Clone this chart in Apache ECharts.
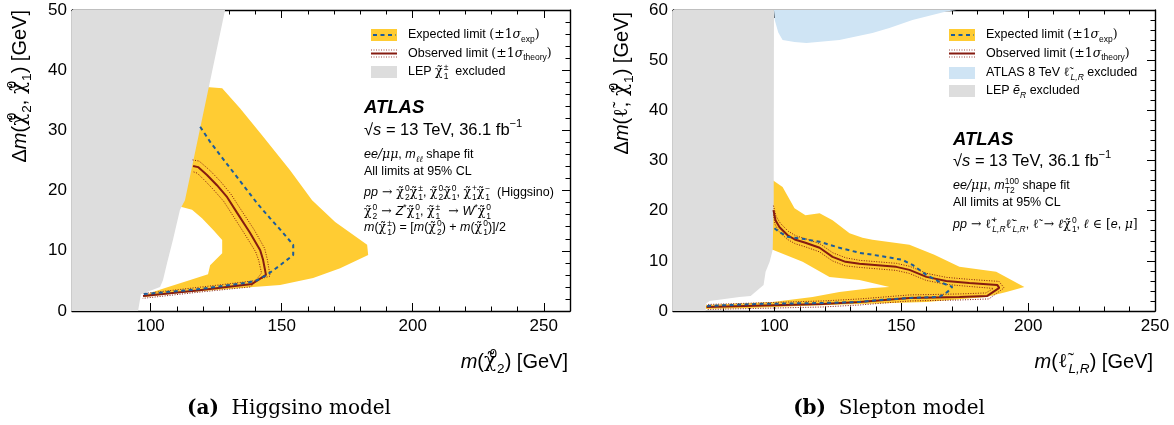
<!DOCTYPE html>
<html>
<head>
<meta charset="utf-8">
<script src="https://cdn.jsdelivr.net/npm/echarts@6/dist/echarts.min.js"></script>
<style>
html,body{margin:0;padding:0;background:#fff;}
#chart{width:1174px;height:425px;}
</style>
</head>
<body>
<div id="chart"></div>
<script>
// ---------- (a) Higgsino model: [m(chi20) GeV, dm(chi20,chi10) GeV] ----------
const higgsinoLep = [[70,50],[128.4,50],[113.1,18.4],[111.2,16.8],[108.5,11.8],[106.3,8.0],[104.7,5.1],[103.6,4.0],[96.3,2.8],[95.2,0],[70,0]];
const higgsinoBand = [[119,37.3],[127.3,37.0],[134.1,33.7],[142.5,29.2],[153.2,23.4],[161.6,18.4],[170.4,14.8],[182.6,11.0],[183.0,9.3],[172.3,7.1],[162.0,5.5],[149.4,4.3],[130.3,3.7],[111.2,3.0],[97.1,2.3],[99.8,3.0],[105.5,3.8],[113.9,5.0],[121.9,6.1],[122.7,7.6],[127.3,9.6],[127.3,11.8],[123.8,13.5],[119.6,15.4],[115.8,16.8],[111.5,17.3]];
const higgsinoExp = [[118.9,30.6],[122.7,28.1],[128.8,24.6],[136.4,20.3],[140.6,17.9],[145.6,15.4],[150.5,13.0],[154.4,11.0],[154.4,9.3],[149.4,7.6],[144.4,6.0],[140.6,5.1],[136.8,4.7],[117.7,3.6],[97.1,2.8]];
const higgsinoObs = [[116.2,24.1],[118.1,23.9],[121.5,22.6],[125.3,20.9],[129.2,18.9],[133.0,16.3],[137.9,13.0],[141.8,10.1],[142.9,8.5],[144.0,6.0],[138.7,4.5],[117.7,3.4],[97.1,2.5]];
const higgsinoObsUp = [[116.0,25.1],[118.5,24.9],[122.5,23.4],[126.5,21.6],[130.5,19.5],[134.5,16.8],[139.5,13.5],[143.5,10.4],[144.5,8.6],[145.6,5.8],[139.2,5.0],[117.7,3.9],[97.3,2.9]];
const higgsinoObsDown = [[116.4,23.1],[117.8,22.9],[120.6,21.7],[124.1,20.1],[127.9,18.2],[131.6,15.7],[136.3,12.5],[140.1,9.8],[141.3,8.3],[142.3,6.3],[138.2,4.0],[117.7,3.1],[97.0,2.1]];

// ---------- (b) Slepton model: [m(slepton) GeV, dm(slepton,chi10) GeV] ----------
const sleptonLep = [[60,60],[99.8,60],[99.7,22.1],[99.3,12.2],[98.1,9.8],[96.5,7.8],[95.7,5.2],[90.6,3.0],[86.2,2.8],[74.4,2.0],[72.9,1.4],[72.9,0],[60,0]];
const sleptonAtlas8 = [[99.8,60],[100.1,58.0],[101.5,55.5],[103.2,54.0],[107.9,53.6],[112.6,53.4],[125.6,54.0],[138.6,55.4],[145.3,56.4],[154.4,58.0],[167.7,59.7],[171.7,60]];
const sleptonBand = [[98.1,26.5],[103.2,24.7],[107.9,20.5],[112.2,19.1],[117.8,19.5],[122.9,18.1],[129.6,15.5],[134.7,14.6],[138.6,14.2],[153.2,13.2],[163.0,11.2],[172.9,8.8],[187.4,7.8],[198.5,4.8],[191.4,3.8],[183.5,2.8],[159.9,1.8],[133.5,1.4],[109.9,1.0],[90.2,0.6],[72.9,0.4],[72.9,1.2],[99.3,1.8],[115.0,2.8],[125.6,3.8],[138.6,4.6],[145.3,4.8],[133.5,6.2],[121.7,6.8],[111.1,9.8],[99.3,12.2],[98.1,12.2]];
const sleptonExp = [[100.0,16.5],[102.0,15.7],[105.2,14.8],[111.1,14.4],[117.8,13.8],[125.6,12.6],[133.5,11.6],[141.4,11.0],[150.4,10.2],[154.4,9.2],[159.9,7.2],[165.0,5.8],[170.1,4.8],[168.2,3.8],[165.0,2.8],[153.2,2.6],[141.4,2.2],[133.5,1.8],[118.9,1.6],[92.9,1.4],[73.2,1.0]];
const sleptonObs = [[99.6,20.1],[100.4,18.1],[102.0,16.7],[105.2,15.1],[108.3,14.2],[112.2,13.6],[117.8,12.6],[122.9,10.8],[128.0,9.8],[133.5,9.4],[148.0,8.8],[153.2,8.2],[159.9,6.8],[167.7,6.0],[176.8,5.6],[187.8,5.2],[188.6,4.6],[183.9,3.0],[172.9,2.8],[153.2,2.6],[133.5,1.8],[118.9,1.4],[73.2,0.8]];
const sleptonObsUp = [[99.6,21.0],[100.6,18.9],[102.3,17.5],[105.4,15.9],[108.4,15.0],[112.3,14.4],[117.9,13.4],[123.0,11.6],[128.1,10.6],[133.6,10.1],[148.1,9.5],[153.3,8.9],[160.0,7.5],[167.8,6.7],[176.9,6.3],[188.5,5.9],[190.5,4.6],[184.5,2.4],[173.0,2.2],[153.3,2.0],[133.6,1.2],[118.9,0.8],[73.2,0.3]];
const sleptonObsDown = [[99.6,19.2],[100.2,17.3],[101.7,15.9],[105.0,14.3],[108.2,13.4],[112.1,12.8],[117.7,11.8],[122.8,10.0],[127.9,9.0],[133.4,8.7],[147.9,8.1],[153.1,7.5],[159.8,6.1],[167.6,5.3],[176.7,4.9],[186.3,4.5],[183.3,3.6],[172.9,3.4],[153.2,3.2],[133.5,2.4],[118.9,2.0],[73.2,1.3]];

// ---------- axis ranges and tick labels ----------
const higgsinoX = {min:70, max:260, labels:[100,150,200,250]};
const higgsinoY = {min:0, max:50};
const sleptonX = {min:60, max:250, labels:[100,150,200,250]};
const sleptonY = {min:0, max:60};

const COL = {
  band:'#ffcc33', lep:'#dddddd', atlas8:'#cfe4f4',
  exp:'#1d5c9a', obs:'#861b10', text:'#000'
};
const SANS = 'Liberation Sans';
const SERIF = 'DejaVu Serif';

function xAxes(g, r) {
  const base = {gridIndex:g, type:'value', min:r.min, max:r.max, interval:10,
    splitLine:{show:false}, axisPointer:{show:false}};
  const line = {show:true, onZero:false, lineStyle:{color:'#000', width:1.4}};
  return [
    Object.assign({}, base, {position:'bottom', axisLine:line,
      axisTick:{show:true, inside:true, length:4.5, lineStyle:{color:'#000', width:1}},
      axisLabel:{show:true, customValues:r.labels, color:'#000', fontFamily:SANS, fontSize:17, margin:7}}),
    Object.assign({}, base, {position:'bottom', axisLine:{show:false, onZero:false},
      axisTick:{show:true, inside:true, length:8, customValues:r.labels, lineStyle:{color:'#000', width:1}},
      axisLabel:{show:false}}),
    Object.assign({}, base, {position:'top', axisLine:line,
      axisTick:{show:true, inside:true, length:4.5, lineStyle:{color:'#000', width:1}},
      axisLabel:{show:false}}),
    Object.assign({}, base, {position:'top', axisLine:{show:false, onZero:false},
      axisTick:{show:true, inside:true, length:8, customValues:r.labels, lineStyle:{color:'#000', width:1}},
      axisLabel:{show:false}})
  ];
}
function yAxes(g, r) {
  const base = {gridIndex:g, type:'value', min:r.min, max:r.max, interval:10,
    splitLine:{show:false}, axisPointer:{show:false},
    axisLine:{show:true, onZero:false, lineStyle:{color:'#000', width:1.4}},
    axisTick:{show:true, inside:true, length:8, lineStyle:{color:'#000', width:1}},
    minorTick:{show:true, splitNumber:5, length:4.5, lineStyle:{color:'#000', width:1}}};
  return [
    Object.assign({}, base, {position:'left',
      axisLabel:{show:true, color:'#000', fontFamily:SANS, fontSize:17, margin:5}}),
    Object.assign({}, base, {position:'right', axisLabel:{show:false}})
  ];
}

function polygon(xi, yi, pts, color, z) {
  return {type:'custom', xAxisIndex:xi, yAxisIndex:yi, z:z, silent:true, clip:true,
    data:[0],
    renderItem:(params, api) => ({type:'polygon',
      shape:{points: pts.map(p => api.coord(p))},
      style:{fill:color}})};
}
function curve(xi, yi, pts, color, width, dash, z) {
  return {type:'line', xAxisIndex:xi, yAxisIndex:yi, z:z, silent:true, clip:true,
    data:pts, showSymbol:false, symbol:'none',
    lineStyle:{color:color, width:width, type:dash}};
}

// rich text styles for physics notation
function rich(s) {
  const sub = Math.round(s*0.68*10)/10;
  const lh = Math.round(s*1.45);
  const sl = Math.round(sub*1.3);
  const gap = Math.max(1, Math.round(s*0.06));
  return {
    n:{fontFamily:SANS, fontSize:s, color:COL.text, lineHeight:lh},
    i:{fontFamily:SANS, fontStyle:'italic', fontSize:s, color:COL.text, lineHeight:lh},
    b:{fontFamily:SANS, fontStyle:'italic', fontWeight:'bold', fontSize:s, color:COL.text, lineHeight:lh},
    g:{fontFamily:SERIF, fontStyle:'italic', fontSize:s, color:COL.text, lineHeight:lh},
    gt:{fontFamily:SERIF, fontSize:s, color:COL.text, lineHeight:lh, padding:[0,gap,0,0]},
    gu:{fontFamily:SERIF, fontSize:s, color:COL.text, lineHeight:lh},
    sp:{fontFamily:SANS, fontSize:sub, color:COL.text, lineHeight:sl, verticalAlign:'top'},
    spz:{fontFamily:SANS, fontSize:sub, color:COL.text, lineHeight:sl, verticalAlign:'top', width:0},
    sb:{fontFamily:SANS, fontSize:sub, color:COL.text, lineHeight:sl, verticalAlign:'bottom'},
    sbz:{fontFamily:SANS, fontSize:sub, color:COL.text, lineHeight:sl, verticalAlign:'bottom', width:0},
    isb:{fontFamily:SANS, fontStyle:'italic', fontSize:sub, color:COL.text, lineHeight:sl, verticalAlign:'bottom'},
    gsb:{fontFamily:SERIF, fontStyle:'italic', fontSize:sub, color:COL.text, lineHeight:sl, verticalAlign:'bottom'}
  };
}
function label(x, y, text, size, align, extra) {
  return Object.assign({type:'text', x:x, y:y, z:100, silent:true,
    style:{text:text, rich:rich(size), align:align || 'left', verticalAlign:'middle'}}, extra || {});
}

const CHI = '{gt|\u03C7\u0303}';
const SLEP = '{gt|\u2113\u0303}';
const chi = (up, low) => CHI + '{spz|' + up + '}{sb|' + low + '}';

const legExp = '{n|Expected limit }{gu|(\u00B11}{g|\u03C3}{sb|exp}{gu|)}';
const legObs = '{n|Observed limit }{gu|(\u00B11}{g|\u03C3}{sb|theory}{gu|)}';
const sqrtS = '{n|\u221A}{i|s}{n| = 13 TeV, 36.1 fb}{sp|\u22121}';

function legendMarks(x0, ys, extraRects) {
  const w = 26, h = 12, els = [];
  els.push({type:'rect', z:100, shape:{x:x0, y:ys[0]-h/2, width:w, height:h}, style:{fill:COL.band}});
  els.push({type:'line', z:101, shape:{x1:x0+2, y1:ys[0], x2:x0+w-1, y2:ys[0]},
    style:{stroke:COL.exp, lineWidth:2, lineDash:[4,3.5]}});
  els.push({type:'line', z:101, shape:{x1:x0, y1:ys[1], x2:x0+w, y2:ys[1]},
    style:{stroke:COL.obs, lineWidth:2}});
  [-3.5, 3.5].forEach(d => els.push({type:'line', z:101,
    shape:{x1:x0, y1:ys[1]+d, x2:x0+w, y2:ys[1]+d},
    style:{stroke:COL.obs, lineWidth:1, lineDash:[1,1.5], opacity:0.8}}));
  extraRects.forEach((c, k) => els.push({type:'rect', z:100,
    shape:{x:x0, y:ys[2+k]-h/2, width:w, height:h}, style:{fill:c}}));
  return els;
}

const captionRich = {cb:{fontFamily:SERIF, fontWeight:'bold', fontSize:20, color:'#000'},
                     c:{fontFamily:SERIF, fontSize:20, color:'#000'}};

const graphics = [].concat(
  // panel (a) legend
  legendMarks(371, [35, 53.5, 72], [COL.lep]),
  [
    label(408, 35, legExp, 12.5),
    label(408, 53.5, legObs, 12.5),
    label(408, 72, '{n|LEP }' + chi('\u00B1','1') + '{n|  excluded}', 12.5),
    label(364, 108, '{b|ATLAS}', 18.5),
    label(364, 130, sqrtS, 16.5),
    label(364, 155, '{i|ee}{g|/\u03BC\u03BC}{n|, }{i|m}{gsb|\u2113\u2113}{n| shape fit}', 12.5),
    label(364, 172, '{n|All limits at 95% CL}', 12.5),
    label(364, 193, '{i|pp}{gu| \u2192 }' + chi('0','2') + chi('\u00B1','1') + '{n|, }' + chi('0','2') + chi('0','1') + '{n|, }' + chi('+','1') + chi('\u2212','1') + '{n|  (Higgsino)}', 12.5),
    label(364, 212, chi('0','2') + '{gu| \u2192 }{i|Z}{sp|*}' + chi('0','1') + '{n|, }' + chi('\u00B1','1') + '{gu|  \u2192 }{i|W}{sp|*}' + chi('0','1'), 12.5),
    label(364, 228, '{i|m}{n|(}' + chi('\u00B1','1') + '{n|) = [}{i|m}{n|(}' + chi('0','2') + '{n|) + }{i|m}{n|(}' + chi('0','1') + '{n|)]/2}', 12.5),
    // axis titles (a)
    label(568, 362, '{i|m}{n|(}' + chi('0','2') + '{n|) [GeV]}', 20, 'right'),
    label(20, 10, '{n|\u0394}{i|m}{n|(}' + chi('0','2') + '{n|, }' + chi('0','1') + '{n|) [GeV]}', 20, 'right', {rotation:Math.PI/2})
  ],
  // panel (b) legend
  legendMarks(949, [35, 53.5, 73, 91], [COL.atlas8, COL.lep]),
  [
    label(986, 35, legExp, 12.5),
    label(986, 53.5, legObs, 12.5),
    label(986, 73, '{n|ATLAS 8 TeV }' + SLEP + '{isb|L,R}{n| excluded}', 12.5),
    label(986, 91, '{n|LEP }{i|\u1EBD}{isb|R}{n| excluded}', 12.5),
    label(953, 140, '{b|ATLAS}', 18.5),
    label(953, 161, sqrtS, 16.5),
    label(953, 186, '{i|ee}{g|/\u03BC\u03BC}{n|, }{i|m}{sbz|T2}{sp|100}{n| shape fit}', 12.5),
    label(953, 203, '{n|All limits at 95% CL}', 12.5),
    label(953, 225, '{i|pp}{gu| \u2192 }' + SLEP + '{spz|+}{isb|L,R}' + SLEP + '{spz|\u2212}{isb|L,R}{n|, }' + SLEP + '{gu| \u2192 }{g|\u2113}' + chi('0','1') + '{n|, }{g|\u2113}{gu| \u2208 [}{i|e}{n|, }{g|\u03BC}{gu|]}', 12.5),
    // axis titles (b)
    label(1153, 362, '{i|m}{n|(}' + SLEP + '{isb|L,R}{n|) [GeV]}', 20, 'right'),
    label(622, 12, '{n|\u0394}{i|m}{n|(}' + SLEP + '{n|, }' + chi('0','1') + '{n|) [GeV]}', 20, 'right', {rotation:Math.PI/2}),
    // captions
    {type:'text', x:289, y:409, z:100, silent:true, style:{text:'{cb|(a)}{c|  Higgsino model}', align:'center', verticalAlign:'middle', rich:captionRich}},
    {type:'text', x:889, y:409, z:100, silent:true, style:{text:'{cb|(b)}{c|  Slepton model}', align:'center', verticalAlign:'middle', rich:captionRich}}
  ]
);

const chart = echarts.init(document.getElementById('chart'), null, {renderer:'canvas'});
chart.setOption({
  animation:false,
  backgroundColor:'#fff',
  grid:[
    {left:72, top:10, width:498, height:301},
    {left:673, top:10, width:482, height:301}
  ],
  xAxis: xAxes(0, higgsinoX).concat(xAxes(1, sleptonX)),
  yAxis: yAxes(0, higgsinoY).concat(yAxes(1, sleptonY)),
  series:[
    polygon(0, 0, higgsinoBand, COL.band, 1),
    polygon(0, 0, higgsinoLep, COL.lep, 2),
    curve(0, 0, higgsinoObsUp, COL.obs, 1, [1,1.5], 3),
    curve(0, 0, higgsinoObsDown, COL.obs, 1, [1,1.5], 3),
    curve(0, 0, higgsinoObs, COL.obs, 2, 'solid', 4),
    curve(0, 0, higgsinoExp, COL.exp, 2, [4,3.5], 5),

    polygon(4, 2, sleptonBand, COL.band, 1),
    polygon(4, 2, sleptonAtlas8, COL.atlas8, 1),
    polygon(4, 2, sleptonLep, COL.lep, 2),
    curve(4, 2, sleptonObsUp, COL.obs, 1, [1,1.5], 3),
    curve(4, 2, sleptonObsDown, COL.obs, 1, [1,1.5], 3),
    curve(4, 2, sleptonObs, COL.obs, 2, 'solid', 4),
    curve(4, 2, sleptonExp, COL.exp, 2, [4,3.5], 5)
  ],
  graphic: graphics
});
</script>
</body>
</html>
